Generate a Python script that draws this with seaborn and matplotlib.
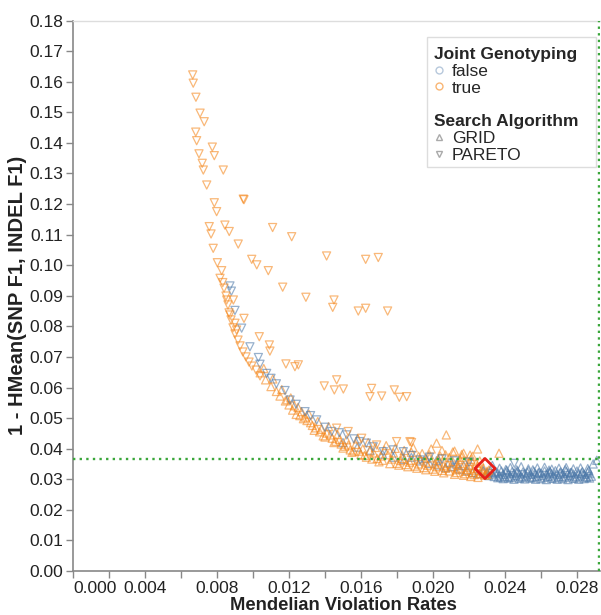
import matplotlib
matplotlib.use('Agg')
import matplotlib.pyplot as plt
from matplotlib.lines import Line2D
from matplotlib.patches import Rectangle
import pandas as pd
import seaborn as sns

# (mendelian violation rate, 1 - hmean F1)
true_pareto = [
    (0.00665, 0.1622), (0.00668, 0.1595), (0.00683, 0.1549), (0.00706, 0.1497),
    (0.00729, 0.1469), (0.00682, 0.1435), (0.00687, 0.1407), (0.00774, 0.1386),
    (0.00700, 0.1364), (0.00785, 0.1358), (0.00718, 0.1333), (0.00724, 0.1311),
    (0.00835, 0.1311), (0.00743, 0.1262), (0.00946, 0.1216), (0.00950, 0.1214),
    (0.00785, 0.1204), (0.00798, 0.1175), (0.00757, 0.1126), (0.00844, 0.1131),
    (0.00868, 0.1110), (0.00767, 0.1102), (0.01109, 0.1123), (0.01215, 0.1093),
    (0.00779, 0.1055), (0.00918, 0.1069), (0.00993, 0.1019), (0.01409, 0.1030),
    (0.00802, 0.1008), (0.01021, 0.1001), (0.00826, 0.0982), (0.01085, 0.0982),
    (0.01626, 0.1019), (0.01696, 0.1025), (0.00817, 0.0957), (0.00832, 0.0943),
    (0.01165, 0.0928), (0.01294, 0.0895), (0.01450, 0.0886), (0.01443, 0.0862),
    (0.01585, 0.0850), (0.01626, 0.0859), (0.01748, 0.0850), (0.00854, 0.0886),
    (0.00891, 0.0886), (0.00872, 0.0837), (0.00950, 0.0826), (0.00900, 0.0810),
    (0.00909, 0.0788), (0.01035, 0.0766), (0.01091, 0.0739), (0.01094, 0.0719),
    (0.01183, 0.0677), (0.01233, 0.0668), (0.01252, 0.0674), (0.01396, 0.0605),
    (0.01465, 0.0625), (0.01452, 0.0592), (0.01502, 0.0595), (0.01659, 0.0597),
    (0.01650, 0.0570), (0.01715, 0.0572), (0.01785, 0.0592), (0.01813, 0.0568),
    (0.01854, 0.0570), (0.01465, 0.0467), (0.01529, 0.0456), (0.01604, 0.0434),
    (0.01687, 0.0412), (0.01798, 0.0423), (0.01872, 0.0423), (0.01881, 0.0420),
    (0.00839, 0.0925), (0.00850, 0.0899), (0.00861, 0.0870), (0.00867, 0.0844),
    (0.00878, 0.0821), (0.00889, 0.0795), (0.00900, 0.0775), (0.00917, 0.0755),
    (0.00928, 0.0736), (0.00944, 0.0716), (0.00961, 0.0700), (0.00978, 0.0683),
    (0.00994, 0.0670), (0.01017, 0.0657), (0.01039, 0.0638),
]

false_pareto = [
    (0.00872, 0.0932), (0.00880, 0.0915), (0.00900, 0.0852), (0.00937, 0.0794),
    (0.00983, 0.0733), (0.01030, 0.0698), (0.01039, 0.0676), (0.01076, 0.0646),
    (0.01100, 0.0630), (0.01130, 0.0612), (0.01178, 0.0590), (0.01206, 0.0559),
    (0.01240, 0.0545), (0.01289, 0.0521), (0.01320, 0.0508), (0.01354, 0.0494),
    (0.01400, 0.0470), (0.01437, 0.0456), (0.01480, 0.0452), (0.01521, 0.0445),
    (0.01560, 0.0432), (0.01594, 0.0423), (0.01630, 0.0418), (0.01668, 0.0406),
    (0.01724, 0.0390), (0.01779, 0.0396), (0.01835, 0.0390), (0.01880, 0.0378),
    (0.01928, 0.0363), (0.01980, 0.0372), (0.02050, 0.0366), (0.02120, 0.0360),
    (0.02200, 0.0356), (0.02452, 0.0352),
]

true_grid = [
    (0.0104, 0.0648), (0.0106, 0.0662), (0.0107, 0.0625), (0.0110, 0.0603),
    (0.0111, 0.0628), (0.0113, 0.0587), (0.0115, 0.0572), (0.0116, 0.0593),
    (0.0118, 0.0556), (0.0120, 0.0543), (0.0121, 0.0566), (0.0122, 0.0526),
    (0.0124, 0.0512), (0.0125, 0.0535), (0.0127, 0.0521), (0.0128, 0.0498),
    (0.0130, 0.0492), (0.0131, 0.0513), (0.0133, 0.0476), (0.0135, 0.0468),
    (0.0136, 0.0489), (0.0137, 0.0455), (0.0139, 0.0442), (0.0141, 0.0451),
    (0.0142, 0.0472), (0.0144, 0.0434), (0.0146, 0.0424), (0.0147, 0.0446),
    (0.0149, 0.0415), (0.0151, 0.0408), (0.0152, 0.0429), (0.0154, 0.0396),
    (0.0156, 0.0392), (0.0157, 0.0414), (0.0158, 0.0432), (0.0160, 0.0381),
    (0.0161, 0.0399), (0.0163, 0.0372), (0.0164, 0.0420), (0.0166, 0.0366),
    (0.0167, 0.0386), (0.0168, 0.0404), (0.0170, 0.0357), (0.0171, 0.0376),
    (0.0173, 0.0395), (0.0174, 0.0410), (0.0176, 0.0351), (0.0177, 0.0366),
    (0.0178, 0.0386), (0.0179, 0.0401), (0.0181, 0.0346), (0.0182, 0.0361),
    (0.0183, 0.0377), (0.0184, 0.0394), (0.0186, 0.0341), (0.0187, 0.0356),
    (0.0188, 0.0388), (0.0189, 0.0403), (0.0191, 0.0336), (0.0192, 0.0350),
    (0.0193, 0.0366), (0.0194, 0.0384), (0.0196, 0.0331), (0.0197, 0.0346),
    (0.0198, 0.0380), (0.0199, 0.0399), (0.0201, 0.0326), (0.0202, 0.0341),
    (0.0203, 0.0357), (0.0204, 0.0376), (0.0205, 0.0394), (0.0206, 0.0321),
    (0.0207, 0.0336), (0.0208, 0.0351), (0.0209, 0.0371), (0.0211, 0.0389),
    (0.0212, 0.0316), (0.0213, 0.0331), (0.0214, 0.0346), (0.0215, 0.0364),
    (0.0216, 0.0381), (0.0217, 0.0313), (0.0218, 0.0326), (0.0219, 0.0340),
    (0.0220, 0.0358), (0.0221, 0.0309), (0.0222, 0.0322), (0.0223, 0.0336),
    (0.0224, 0.0352), (0.0225, 0.0306), (0.0226, 0.0318), (0.0227, 0.0331),
    (0.0229, 0.0313), (0.0230, 0.0326),
    (0.0185, 0.0348), (0.0188, 0.0362), (0.0190, 0.0343), (0.0192, 0.0375),
    (0.0195, 0.0338), (0.0196, 0.0356), (0.0198, 0.0370), (0.0200, 0.0333),
    (0.0201, 0.0350), (0.0203, 0.0366), (0.0205, 0.0329), (0.0206, 0.0344),
    (0.0207, 0.0380), (0.0209, 0.0327), (0.0210, 0.0340), (0.0211, 0.0358),
    (0.0213, 0.0322), (0.0214, 0.0336), (0.0215, 0.0352), (0.0216, 0.0372),
    (0.0218, 0.0318), (0.0219, 0.0332), (0.0220, 0.0346), (0.0221, 0.0365),
    (0.0223, 0.0315), (0.0224, 0.0328), (0.0225, 0.0342), (0.0226, 0.0360),
    (0.0228, 0.0320), (0.0228, 0.0336), (0.0230, 0.0316), (0.0231, 0.0330),
    (0.0222, 0.0375), (0.0217, 0.0385), (0.0212, 0.0392),
    (0.0119, 0.0560), (0.0123, 0.0540), (0.0126, 0.0508), (0.0129, 0.0503),
    (0.0132, 0.0485), (0.0134, 0.0460), (0.0138, 0.0463), (0.0140, 0.0438),
    (0.0143, 0.0445), (0.0145, 0.0420), (0.0148, 0.0430), (0.0150, 0.0402),
    (0.0153, 0.0412), (0.0155, 0.0388), (0.0159, 0.0392), (0.0162, 0.0378),
    (0.0165, 0.0392), (0.0169, 0.0368), (0.0172, 0.0362), (0.0175, 0.0380),
    (0.0180, 0.0352), (0.0183, 0.0368),
    (0.02074, 0.0445), (0.02020, 0.0418), (0.02248, 0.0399), (0.02206, 0.0379),
    (0.02367, 0.0385),
]

false_grid = [
    (0.0150, 0.0420), (0.0158, 0.0405), (0.0165, 0.0395), (0.0172, 0.0382),
    (0.0178, 0.0372), (0.0184, 0.0365), (0.0188, 0.0372), (0.0193, 0.0360),
    (0.0198, 0.0352), (0.0203, 0.0347), (0.0207, 0.0338), (0.0211, 0.0342),
    (0.0215, 0.0333), (0.0219, 0.0328), (0.0222, 0.0322), (0.0225, 0.0318),
    (0.0228, 0.0330), (0.0230, 0.0322), (0.0196, 0.0368), (0.0202, 0.0361),
    (0.0209, 0.0355), (0.0213, 0.0350), (0.0217, 0.0345),
    (0.0236, 0.0305), (0.0239, 0.0302), (0.0242, 0.0304), (0.0245, 0.0300),
    (0.0248, 0.0303), (0.0251, 0.0301), (0.0254, 0.0304), (0.0257, 0.0300),
    (0.0260, 0.0302), (0.0263, 0.0299), (0.0266, 0.0303), (0.0269, 0.0300),
    (0.0272, 0.0302), (0.0275, 0.0299), (0.0278, 0.0303), (0.0281, 0.0300),
    (0.0284, 0.0302), (0.0287, 0.0304),
    (0.0231, 0.0312), (0.0234, 0.0309), (0.0237, 0.0311), (0.0240, 0.0308),
    (0.0243, 0.0310), (0.0246, 0.0312), (0.0249, 0.0309), (0.0252, 0.0311),
    (0.0255, 0.0308), (0.0258, 0.0310), (0.0261, 0.0312), (0.0264, 0.0309),
    (0.0267, 0.0311), (0.0270, 0.0308), (0.0273, 0.0310), (0.0276, 0.0312),
    (0.0279, 0.0309), (0.0282, 0.0311), (0.0285, 0.0308), (0.0288, 0.0310),
    (0.0230, 0.0319), (0.0233, 0.0317), (0.0236, 0.0320), (0.0239, 0.0316),
    (0.0242, 0.0318), (0.0245, 0.0320), (0.0248, 0.0317), (0.0251, 0.0319),
    (0.0254, 0.0316), (0.0257, 0.0318), (0.0260, 0.0320), (0.0263, 0.0317),
    (0.0266, 0.0319), (0.0269, 0.0316), (0.0272, 0.0318), (0.0275, 0.0320),
    (0.0278, 0.0317), (0.0281, 0.0319), (0.0284, 0.0316), (0.0287, 0.0318),
    (0.0228, 0.0326), (0.0232, 0.0328), (0.0235, 0.0325), (0.0238, 0.0327),
    (0.0241, 0.0329), (0.0244, 0.0325), (0.0247, 0.0327), (0.0250, 0.0324),
    (0.0253, 0.0328), (0.0256, 0.0326), (0.0259, 0.0323), (0.0262, 0.0327),
    (0.0265, 0.0325), (0.0268, 0.0328), (0.0271, 0.0324), (0.0274, 0.0326),
    (0.0277, 0.0323), (0.0280, 0.0327), (0.0283, 0.0325), (0.0286, 0.0323),
    (0.0233, 0.0345), (0.0237, 0.0336), (0.0243, 0.0338), (0.0249, 0.0341),
    (0.0253, 0.0334), (0.0258, 0.0337), (0.0262, 0.0339), (0.0266, 0.0333),
    (0.0270, 0.0336), (0.0274, 0.0338), (0.0278, 0.0334), (0.0282, 0.0337),
    (0.0286, 0.0335), (0.0291, 0.0362), (0.0289, 0.0350),
    (0.02375, 0.0307), (0.02435, 0.0306), (0.02495, 0.0306), (0.02555, 0.0305),
    (0.02615, 0.0306), (0.02675, 0.0305), (0.02735, 0.0306), (0.02795, 0.0305),
    (0.02855, 0.0306), (0.02345, 0.0322), (0.02405, 0.0323), (0.02465, 0.0322),
    (0.02525, 0.0322), (0.02585, 0.0321), (0.02645, 0.0322), (0.02705, 0.0321),
    (0.02765, 0.0322), (0.02825, 0.0321), (0.02865, 0.0329), (0.02405, 0.0332),
    (0.02465, 0.0331), (0.02555, 0.0331), (0.02645, 0.0330), (0.02735, 0.0331),
]

chosen_point = [(0.02289, 0.0335)]
threshold_y = 0.0365
threshold_x = 0.0292

x_ticks = [0.000, 0.002, 0.004, 0.006, 0.008, 0.010, 0.012, 0.014,
           0.016, 0.018, 0.020, 0.022, 0.024, 0.026, 0.028]
y_ticks = [0.00, 0.01, 0.02, 0.03, 0.04, 0.05, 0.06, 0.07, 0.08, 0.09,
           0.10, 0.11, 0.12, 0.13, 0.14, 0.15, 0.16, 0.17, 0.18]

blue = '#4c78a8'
orange = '#f58518'
green = '#3aa63a'


def frame(points, joint, algo):
    df = pd.DataFrame(points, columns=['mvr', 'f1'])
    df['joint'] = joint
    df['algo'] = algo
    return df


def main():
    df = pd.concat([
        frame(false_grid, 'false', 'GRID'),
        frame(true_grid, 'true', 'GRID'),
        frame(false_pareto, 'false', 'PARETO'),
        frame(true_pareto, 'true', 'PARETO'),
    ], ignore_index=True)

    sns.set_style('ticks')
    plt.rcParams['font.family'] = ['Liberation Sans', 'DejaVu Sans']

    fig = plt.figure(figsize=(6.01, 6.15), dpi=100)
    ax = fig.add_axes([73 / 601, 44 / 615, 527 / 601, 550.5 / 615])

    for algo, mk in [('GRID', '^'), ('PARETO', 'v')]:
        sub = df[df['algo'] == algo]
        sns.scatterplot(data=sub, x='mvr', y='f1', hue='joint',
                        palette={'false': blue, 'true': orange}, ax=ax,
                        legend=False, s=34, alpha=0.58, linewidth=0.9, marker=mk)
    # hollow markers like the original
    for coll in ax.collections:
        fc = coll.get_facecolors()
        coll.set_edgecolors(fc)
        coll.set_facecolors('none')

    cp = pd.DataFrame(chosen_point, columns=['mvr', 'f1'])
    sns.scatterplot(data=cp, x='mvr', y='f1', marker='D', s=105, ax=ax,
                    facecolor='none', edgecolor='#e8201a', linewidth=2,
                    legend=False, zorder=5)
    ax.collections[-1].set_facecolors('none')

    ax.axhline(threshold_y, color=green, lw=1.7, ls=(0, (1, 1.8)), zorder=4)
    ax.axvline(threshold_x, color=green, lw=1.7, ls=(0, (1, 1.8)), zorder=4)

    ax.set_xlim(0, 0.02928)
    ax.set_ylim(0, 0.18)
    ax.set_xticks(x_ticks)
    ax.set_xticklabels(['%.3f' % t if i % 2 == 0 else '' for i, t in enumerate(x_ticks)])
    ax.get_xticklabels()[0].set_horizontalalignment('left')
    ax.set_yticks(y_ticks)
    ax.set_yticklabels(['%.2f' % t for t in y_ticks])
    ax.tick_params(length=5, width=1, color='#888888', labelsize=12.5,
                   labelcolor='#222222', pad=2)

    for side in ['left', 'bottom']:
        ax.spines[side].set_color('#888888')
        ax.spines[side].set_linewidth(1.2)
    ax.spines['top'].set_color('#dddddd')
    ax.spines['top'].set_linewidth(1)
    ax.spines['right'].set_visible(False)

    ax.set_xlabel('Mendelian Violation Rates', fontsize=13.2, fontweight='bold',
                  color='#222222')
    ax.xaxis.set_label_coords(0.513, -0.047)
    ax.set_ylabel('1 - HMean(SNP F1, INDEL F1)', fontsize=14.5, fontweight='bold',
                  color='#222222', va='center')
    ax.yaxis.set_label_coords(-0.106, 0.5)

    # legend: two stacked groups inside one light frame
    h1 = [Line2D([], [], ls='', marker='o', ms=5, mfc='none', mec=blue, alpha=0.4, mew=1),
          Line2D([], [], ls='', marker='o', ms=5, mfc='none', mec=orange, alpha=0.6, mew=1)]
    h2 = [Line2D([], [], ls='', marker='^', ms=5, mfc='none', mec='#aaaaaa', mew=1),
          Line2D([], [], ls='', marker='v', ms=5, mfc='none', mec='#aaaaaa', mew=1)]
    opts = dict(frameon=False, fontsize=12.5, handlelength=0.6, handletextpad=0.45,
                labelspacing=0.1, borderpad=0, alignment='left',
                title_fontproperties={'weight': 'bold', 'size': 12.5})
    leg1 = ax.legend(h1, ['false', 'true'], title='Joint Genotyping',
                     loc='upper left', bbox_to_anchor=(0.668, 0.968), **opts)
    ax.add_artist(leg1)
    ax.legend(h2, ['GRID', 'PARETO'], title='Search Algorithm',
              loc='upper left', bbox_to_anchor=(0.668, 0.846), **opts)
    ax.add_patch(Rectangle((0.672, 0.734), 0.32, 0.236, transform=ax.transAxes,
                           facecolor='white', edgecolor='#dddddd', lw=1, zorder=3))

    fig.savefig('out.png', dpi=100)


if __name__ == '__main__':
    main()
